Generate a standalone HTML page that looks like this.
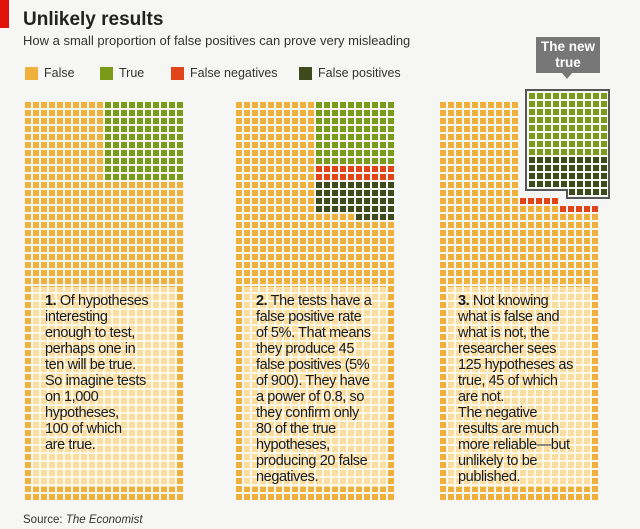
<!DOCTYPE html>
<html><head><meta charset="utf-8"><style>
body{margin:0;width:640px;height:529px;background:#f6f6f4;position:relative;overflow:hidden;font-family:"Liberation Sans",sans-serif;color:#222}
.c{position:absolute;width:6px;height:6px}
.ov{position:absolute;background:rgba(255,248,225,0.62)}
.tx{position:absolute;font-size:14.5px;line-height:16px;letter-spacing:-0.4px;color:#1a1a1a;white-space:nowrap}
.lg{position:absolute;top:67px;width:13px;height:13px}
.lt{position:absolute;top:66px;font-size:12.5px;color:#333}
</style></head><body>
<div style="position:absolute;left:0;top:0;width:9px;height:28px;background:#e3120b"></div>
<div style="position:absolute;left:23px;top:9px;font-size:19px;font-weight:bold;color:#222">Unlikely results</div>
<div style="position:absolute;left:23px;top:33px;font-size:13px;color:#333">How a small proportion of false positives can prove very misleading</div>
<div class="lg" style="left:25px;background:#f0b03c"></div><div class="lt" style="left:44px">False</div>
<div class="lg" style="left:100px;background:#7a9a1a"></div><div class="lt" style="left:119px">True</div>
<div class="lg" style="left:171px;background:#e04418"></div><div class="lt" style="left:190px">False negatives</div>
<div class="lg" style="left:299px;background:#3f4a1c"></div><div class="lt" style="left:318px">False positives</div>
<svg style="position:absolute;left:0;top:0" width="640" height="529"><polygon points="526,90 609,90 609,198 567,198 567,190 526,190" fill="#f6f6f4" stroke="#555" stroke-width="2"/></svg>
<div id="g"></div>
<div style="position:absolute;left:536px;top:37px;width:64px;height:36px;background:#777;color:#fff;font-weight:bold;font-size:13.5px;line-height:16px;text-align:center;padding-top:2px;box-sizing:border-box">The new<br>true</div>
<div style="position:absolute;left:562px;top:73px;width:0;height:0;border-left:5px solid transparent;border-right:5px solid transparent;border-top:6px solid #777"></div>
<div id="o"></div>
<div class="tx" style="left:45px;top:293px"><b>1.</b> Of hypotheses<br>interesting<br>enough to test,<br>perhaps one in<br>ten will be true.<br>So imagine tests<br>on 1,000<br>hypotheses,<br>100 of which<br>are true.</div>
<div class="tx" style="left:256px;top:293px"><b>2.</b> The tests have a<br>false positive rate<br>of 5%. That means<br>they produce 45<br>false positives (5%<br>of 900). They have<br>a power of 0.8, so<br>they confirm only<br>80 of the true<br>hypotheses,<br>producing 20 false<br>negatives.</div>
<div class="tx" style="left:458px;top:293px"><b>3.</b> Not knowing<br>what is false and<br>what is not, the<br>researcher sees<br>125 hypotheses as<br>true, 45 of which<br>are not.<br>The negative<br>results are much<br>more reliable—but<br>unlikely to be<br>published.</div>
<div style="position:absolute;left:23px;top:514px;font-size:11.5px;color:#333">Source: <i>The Economist</i></div>
<script>
var O='#f0b03c',G='#7a9a1a',R='#e04418',D='#3f4a1c';
var h='';
function c(x,y,col){h+='<div class="c" style="left:'+x+'px;top:'+y+'px;background:'+col+'"></div>';}
var Y0=102;
for(var r=0;r<50;r++)for(var k=0;k<20;k++){c(25+k*8,Y0+r*8,(k>=10&&r<10)?G:O);}
for(var r=0;r<50;r++)for(var k=0;k<20;k++){var col=O;if(k>=10){if(r<8)col=G;else if(r<10)col=R;else if(r<14)col=D;else if(r==14&&k>=15)col=D;}c(236+k*8,Y0+r*8,col);}
for(var r=0;r<50;r++)for(var k=0;k<20;k++){var x=440+k*8,y=Y0+r*8;if(k<10){c(x,y,O);continue;}
 if(r<12)continue; if(r==12){if(k<15)c(x,y,R);continue;} if(r==13){c(x,y,k>=15?R:O);continue;} c(x,y,O);}
for(var r=0;r<13;r++)for(var k=0;k<10;k++){var col=r<8?G:D;if(r==12&&k<5)continue;c(529+k*8,93+r*8,col);}
document.getElementById('g').innerHTML=h;
var o='';[[33,287],[244,287],[448,287]].forEach(function(p){o+='<div class="ov" style="left:'+p[0]+'px;top:'+p[1]+'px;width:144px;height:200px"></div>';});
document.getElementById('o').innerHTML=o;
</script>
</body></html>
